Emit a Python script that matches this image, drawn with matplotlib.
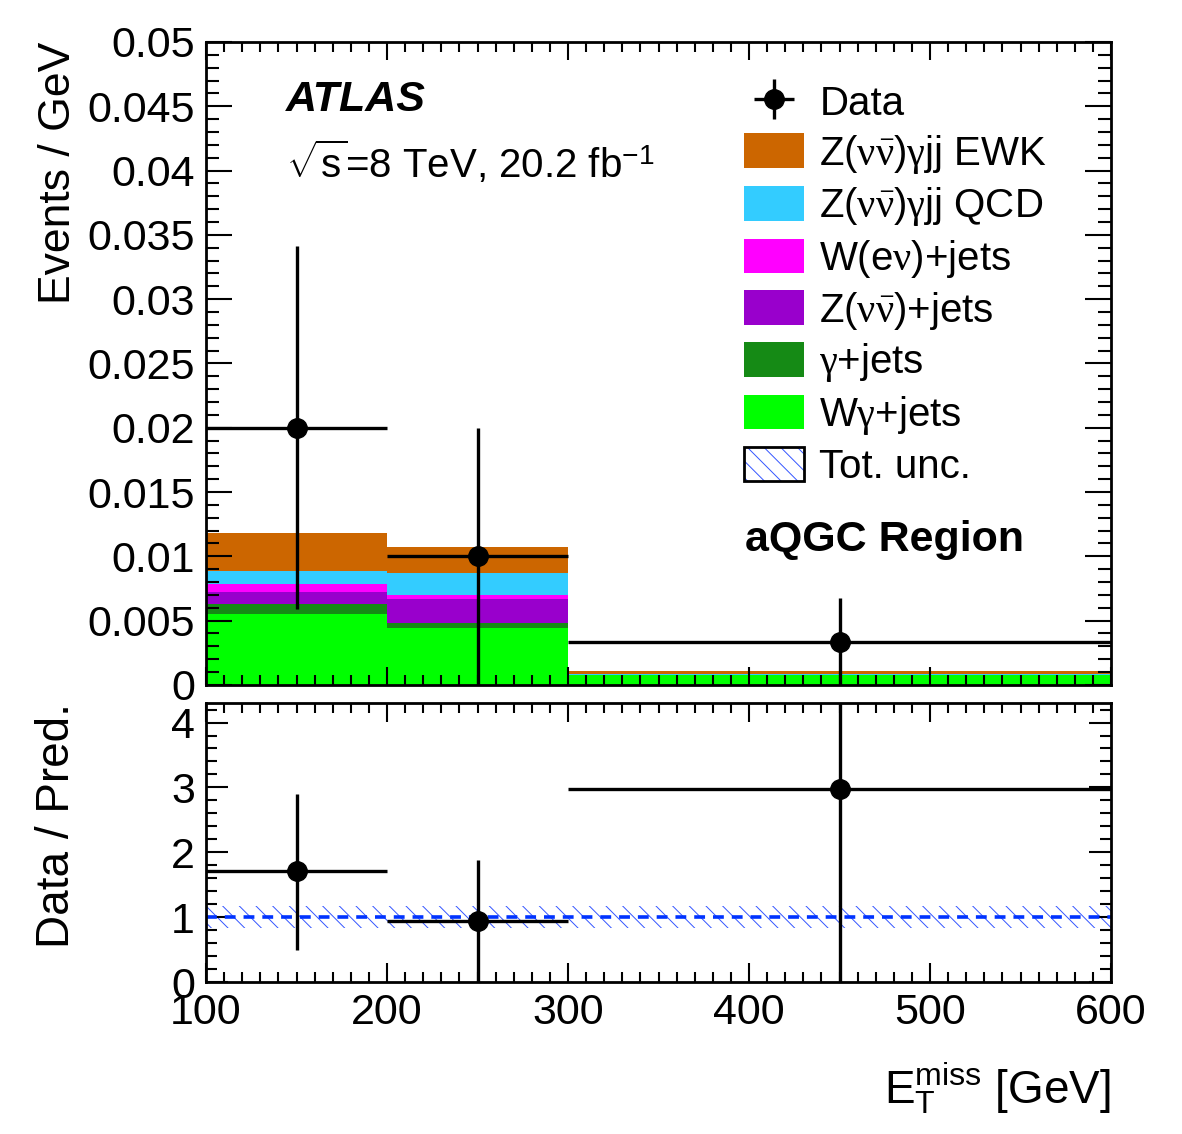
"""ATLAS aQGC region: MET distribution with stacked backgrounds and data/pred ratio."""

import matplotlib
matplotlib.use("Agg")
import matplotlib.pyplot as plt
import numpy as np
from matplotlib.patches import Patch
from matplotlib.legend_handler import HandlerTuple
from matplotlib.ticker import MultipleLocator, FuncFormatter

plt.rcParams["font.family"] = ["Liberation Sans", "DejaVu Sans"]
plt.rcParams["mathtext.fontset"] = "custom"
plt.rcParams["mathtext.rm"] = "Liberation Serif"
plt.rcParams["mathtext.it"] = "Liberation Serif"
plt.rcParams["mathtext.sf"] = "Liberation Sans"
plt.rcParams["hatch.linewidth"] = 0.7

# bin edges in MET [GeV]
edges = [100, 200, 300, 600]
centers = [150, 250, 450]
half_widths = [50, 50, 150]

# stacked backgrounds, bottom to top (events / GeV)
wgam = [0.00548, 0.00444, 0.00075]
gamjets = [0.00082, 0.00039, 0.00002]
znn = [0.00093, 0.00184, 0.00002]
wen = [0.00062, 0.00031, 0.00001]
qcd_zgjj = [0.00099, 0.00175, 0.00002]
ewk_zgjj = [0.00296, 0.00199, 0.00030]

data = [0.0200, 0.0100, 0.00333]
data_err_lo = [0.0141, 0.0100, 0.00333]
data_err_hi = [0.0141, 0.0100, 0.00341]

ratio = [1.71, 0.94, 2.98]
ratio_err_lo = [1.21, 0.94, 2.98]
ratio_err_hi = [1.19, 0.94, 2.98]
unc_rel = [0.17, 0.17, 0.17]

stack = [
    (wgam, "#00ff00", r"W$\gamma$+jets"),
    (gamjets, "#158a15", r"$\gamma$+jets"),
    (znn, "#9900cc", r"Z($\nu\bar{\nu}$)+jets"),
    (wen, "#ff00ff", r"W(e$\nu$)+jets"),
    (qcd_zgjj, "#33ccff", r"Z($\nu\bar{\nu}$)$\gamma$jj QCD"),
    (ewk_zgjj, "#cc6600", r"Z($\nu\bar{\nu}$)$\gamma$jj EWK"),
]

fig = plt.figure(figsize=(11.82, 11.34), dpi=100)
ax = fig.add_axes([0.1743, 0.396, 0.7657, 0.567])
rax = fig.add_axes([0.1743, 0.134, 0.7657, 0.246])

# stacked histogram
base = np.zeros(len(centers))
handles = {}
for vals, color, label in stack:
    top = base + np.array(vals)
    ax.stairs(top, edges, baseline=base, fill=True, color=color, lw=0)
    handles[label] = Patch(facecolor=color, edgecolor="none")
    base = top

dat = ax.errorbar(centers, data, xerr=half_widths, yerr=[data_err_lo, data_err_hi],
                  fmt="o", color="black", ms=14, elinewidth=2.4, capsize=0, zorder=5)

ax.set_xlim(100, 600)
ax.set_ylim(0, 0.05)
ax.yaxis.set_major_locator(MultipleLocator(0.005))
ax.yaxis.set_minor_locator(MultipleLocator(0.001))
ax.yaxis.set_major_formatter(FuncFormatter(lambda v, p: "%g" % round(v, 4)))
ax.xaxis.set_major_locator(MultipleLocator(100))
ax.xaxis.set_minor_locator(MultipleLocator(10))
ax.tick_params(axis="x", labelbottom=False)
ax.set_ylabel("Events / GeV", fontsize=32, loc="top")
ax.yaxis.set_label_coords(-0.14, 1.0)

# ratio panel
rax.stairs(1 + np.array(unc_rel), edges, baseline=1 - np.array(unc_rel), fill=True,
           facecolor="none", edgecolor="#3355ff", hatch="\\\\", lw=0)
rax.axhline(1, color="#0033ff", lw=2.6, ls=(0, (3, 2.2)))
rax.errorbar(centers, ratio, xerr=half_widths, yerr=[ratio_err_lo, ratio_err_hi],
             fmt="o", color="black", ms=14, elinewidth=2.4, capsize=0, zorder=5)
rax.set_xlim(100, 600)
rax.set_ylim(0, 4.3)
rax.yaxis.set_major_locator(MultipleLocator(1))
rax.yaxis.set_minor_locator(MultipleLocator(0.2))
rax.xaxis.set_major_locator(MultipleLocator(100))
rax.xaxis.set_minor_locator(MultipleLocator(10))
rax.set_ylabel("Data / Pred.", fontsize=33, loc="top")
rax.yaxis.set_label_coords(-0.14, 1.0)
rax.set_xlabel(r"$\mathsf{E}_{\mathsf{T}}^{\mathsf{miss}}$ [GeV]", fontsize=33, loc="right")
rax.xaxis.set_label_coords(1.0, -0.28)

for a, (maj_y, min_y, maj_x, min_x) in [(ax, (19, 9.5, 13, 7)), (rax, (16, 8, 14, 7))]:
    a.tick_params(which="major", axis="y", length=maj_y)
    a.tick_params(which="minor", axis="y", length=min_y)
    a.tick_params(which="major", axis="x", length=maj_x)
    a.tick_params(which="minor", axis="x", length=min_x)
    a.tick_params(which="both", direction="in", top=True, right=True, width=1.5,
                  labelsize=31, pad=8)
    for s in a.spines.values():
        s.set_linewidth(2)

# annotations
ax.text(0.088, 0.91, "ATLAS", transform=ax.transAxes, fontsize=31,
        fontweight="bold", fontstyle="italic", va="center")
ax.text(0.088, 0.813, r"$\sqrt{\mathsf{s}}$=8 TeV, 20.2 fb$^{\mathsf{-1}}$",
        transform=ax.transAxes, fontsize=29, va="center")
ax.text(0.596, 0.226, "aQGC Region", transform=ax.transAxes, fontsize=31,
        fontweight="bold", va="center")

# legend
unc_handle = (Patch(facecolor="white", edgecolor="#3355ff", hatch="\\\\", lw=0),
              Patch(facecolor="none", edgecolor="black", lw=2))
leg_handles = [dat] + [handles[lbl] for _, _, lbl in reversed(stack)] + [unc_handle]
leg_labels = ["Data"] + [lbl for _, _, lbl in reversed(stack)] + ["Tot. unc."]
ax.legend(leg_handles, leg_labels, loc="upper left", bbox_to_anchor=(0.594, 0.935),
          frameon=False, fontsize=29, handlelength=1.5, handleheight=0.95,
          labelspacing=0.24, handletextpad=0.38, borderpad=0, borderaxespad=0,
          handler_map={tuple: HandlerTuple(ndivide=1, pad=0)})

fig.savefig("out.png", dpi=100)
plt.close(fig)
